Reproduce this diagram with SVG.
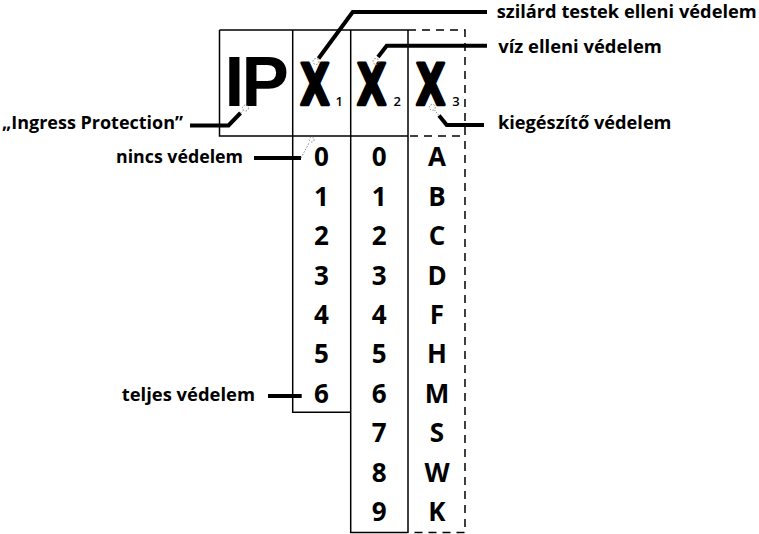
<svg xmlns="http://www.w3.org/2000/svg" width="759" height="534" viewBox="0 0 759 534">
<style>
.box{fill:none;stroke:#000;stroke-width:1.5}
.dash{fill:none;stroke:#000;stroke-width:1.5;stroke-dasharray:8 6}
.lead{fill:none;stroke:#000;stroke-width:4}
.dot{fill:none;stroke:#888;stroke-width:1;stroke-dasharray:1.5 1.5}
.lbl{font-family:"Open Sans","Liberation Sans",sans-serif;font-weight:bold;font-size:17px;fill:#000}
.big{font-family:"Liberation Sans",Arial,sans-serif;font-weight:bold;fill:#000}
.xx{font-family:"DejaVu Sans","Liberation Sans",sans-serif;font-weight:bold;font-size:56px;fill:#000;stroke:#000;stroke-width:3;stroke-linejoin:round;text-anchor:middle}
.sub{font-family:"Open Sans","Liberation Sans",sans-serif;font-weight:600;font-size:13px;fill:#000;text-anchor:middle}
.cell{font-family:"Open Sans","Liberation Sans",sans-serif;font-weight:bold;font-size:26px;fill:#000;text-anchor:middle}
</style>
<rect width="759" height="534" fill="#fff"/>
<g id="table">
<path class="box" d="M219.5,30 H408 M219.5,30 V136 H408 M292.7,30 V412.3 H350.7 M350.7,30 V532.5 H408 M408,30 V532.5"/>
<path class="dash" d="M408,30 H465 V532.5 H408 M410,136 H465"/>
</g>
<g id="header">
<text class="big" x="224.5" y="106" font-size="71" letter-spacing="-2.7">IP</text>
<text class="xx" transform="translate(315,105) scale(0.68,1)">X</text>
<text class="xx" transform="translate(371.7,105) scale(0.68,1)">X</text>
<text class="xx" transform="translate(430.7,105) scale(0.68,1)">X</text>
<text class="sub" x="339.3" y="106">1</text>
<text class="sub" x="397.3" y="106">2</text>
<text class="sub" x="456" y="106">3</text>
</g>
<g id="col1">
<text class="cell" x="321.5" y="166">0</text>
<text class="cell" x="321.5" y="205.5">1</text>
<text class="cell" x="321.5" y="245">2</text>
<text class="cell" x="321.5" y="284.5">3</text>
<text class="cell" x="321.5" y="324">4</text>
<text class="cell" x="321.5" y="363">5</text>
<text class="cell" x="321.5" y="402.5">6</text>
</g>
<g id="col2">
<text class="cell" x="379.3" y="166">0</text>
<text class="cell" x="379.3" y="205.5">1</text>
<text class="cell" x="379.3" y="245">2</text>
<text class="cell" x="379.3" y="284.5">3</text>
<text class="cell" x="379.3" y="324">4</text>
<text class="cell" x="379.3" y="363">5</text>
<text class="cell" x="379.3" y="402.5">6</text>
<text class="cell" x="379.3" y="442">7</text>
<text class="cell" x="379.3" y="481.5">8</text>
<text class="cell" x="379.3" y="521">9</text>
</g>
<g id="col3">
<text class="cell" x="437" y="166">A</text>
<text class="cell" x="437" y="205.5">B</text>
<text class="cell" x="437" y="245">C</text>
<text class="cell" x="437" y="284.5">D</text>
<text class="cell" x="437" y="324">F</text>
<text class="cell" x="437" y="363">H</text>
<text class="cell" x="437" y="402.5">M</text>
<text class="cell" x="437" y="442">S</text>
<text class="cell" x="437" y="481.5">W</text>
<text class="cell" x="437" y="521">K</text>
</g>
<g id="connectors">
<path class="lead" d="M487,12 H352.7 L318.5,58.5"/>
<path class="lead" d="M487,45.7 H386.7 L378,57"/>
<path class="lead" d="M484,125 H446.7 L439,115.5"/>
<path class="lead" d="M190,125.5 H228.5 L240.5,113"/>
<path class="lead" d="M254,158 H301"/>
<path class="lead" d="M268,396 H301.7"/>
<circle class="dot" cx="316" cy="61.5" r="3"/>
<circle class="dot" cx="376" cy="61.5" r="3"/>
<circle class="dot" cx="432.3" cy="107.3" r="3"/>
<circle class="dot" cx="245.5" cy="108" r="3"/>
<circle class="dot" cx="311.7" cy="139.5" r="2.5"/>
<path class="dot" d="M240.5,113 L243.5,110 M439,115.5 L434.5,110 M301,158 L309.5,142"/>
</g>
<g id="labels">
<text class="lbl" x="496.7" y="18.3" textLength="260" lengthAdjust="spacingAndGlyphs">szilárd testek elleni védelem</text>
<text class="lbl" x="498.3" y="52.5" textLength="163.5" lengthAdjust="spacingAndGlyphs">víz elleni védelem</text>
<text class="lbl" x="498" y="128.5" textLength="173.5" lengthAdjust="spacingAndGlyphs">kiegészítő védelem</text>
<text class="lbl" x="2" y="128.5" textLength="181" lengthAdjust="spacingAndGlyphs">„Ingress Protection”</text>
<text class="lbl" x="116" y="163.3" textLength="127" lengthAdjust="spacingAndGlyphs">nincs védelem</text>
<text class="lbl" x="121.7" y="401.3" textLength="133.3" lengthAdjust="spacingAndGlyphs">teljes védelem</text>
</g>
</svg>
